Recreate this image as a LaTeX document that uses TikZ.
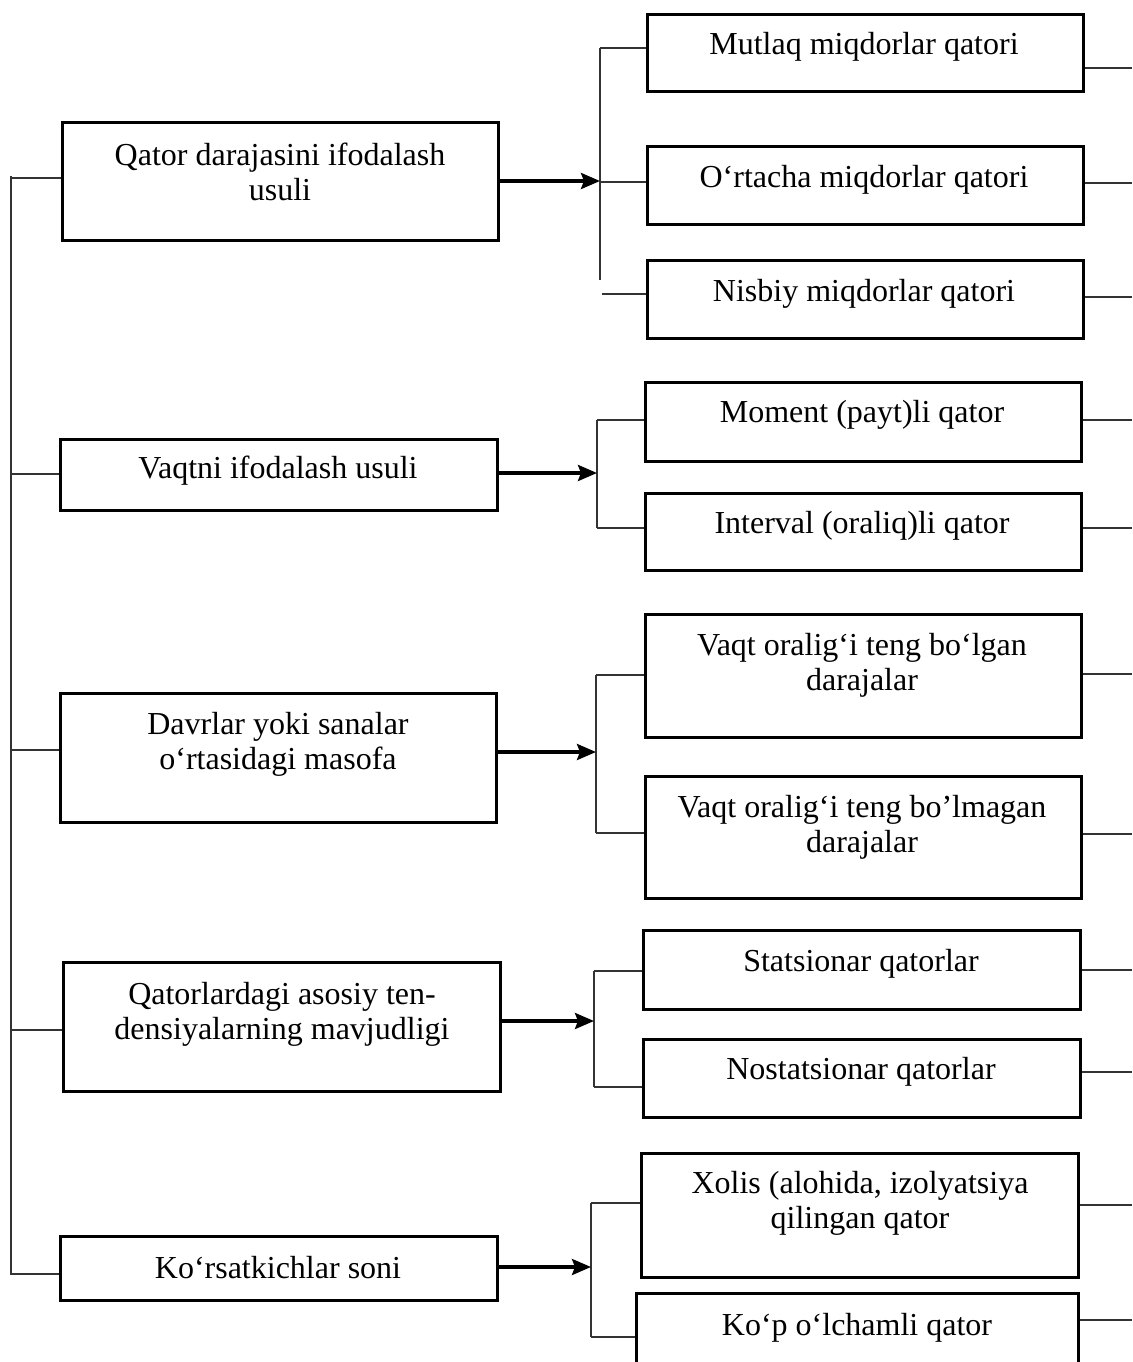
\documentclass[tikz,border=0pt]{standalone}
\usepackage{fontspec}
\setmainfont{Liberation Serif}
\usetikzlibrary{arrows.meta}

% rectangle node given by its corners: name, x1, y1, x2, y2
\newcommand\boxat[5]{%
  \node[box, minimum width={(#4)-(#2)}, minimum height={(#5)-(#3)}]
    (#1) at ({((#2)+(#4))/2},{((#3)+(#5))/2}) {};}

\begin{document}
\begin{tikzpicture}[x=1pt,y=-1pt,
  box/.style={draw, line width=3pt, inner sep=0pt},
  lbl/.style={font=\fontsize{32}{35}\selectfont, align=center, inner sep=0pt},
  link/.style={line width=1.4pt, draw=black!80},
  feed/.style={line width=3.4pt, -{Stealth[length=19pt,width=16pt,inset=3pt,fill=black]}}]
\useasboundingbox (0,0) rectangle (1132,1362);
\clip (0,0) rectangle (1132,1362);

% left column: classification criteria
\boxat{L1}{62}{123}{498}{240}
\boxat{L2}{60}{439}{497}{510}
\boxat{L3}{60}{693}{496}{822}
\boxat{L4}{63}{962}{500}{1091}
\boxat{L5}{60}{1236}{497}{1300}

\node[lbl] (tL1) at (280,172) {Qator darajasini ifodalash\\usuli};
\node[lbl] (tL2) at (278,471) {Vaqtni ifodalash usuli};
\node[lbl] (tL3) at (278,744) {Davrlar yoki sanalar\\o‘rtasidagi masofa};
\node[lbl] (tL4) at (282,1014) {Qatorlardagi asosiy ten-\\densiyalarning mavjudligi};
\node[lbl] (tL5) at (278,1268) {Ko‘rsatkichlar soni};

% right column: kinds of series
\boxat{R1}{647}{15}{1083}{92}
\boxat{R2}{647}{146}{1083}{224}
\boxat{R3}{647}{260}{1083}{338}
\boxat{R4}{645}{382}{1081}{461}
\boxat{R5}{645}{493}{1081}{570}
\boxat{R6}{645}{614}{1081}{737}
\boxat{R7}{645}{776}{1081}{898}
\boxat{R8}{643}{930}{1080}{1009}
\boxat{R9}{643}{1039}{1080}{1117}
\boxat{R10}{641}{1153}{1078}{1277}
\boxat{R11}{636}{1293}{1078}{1385}

\node[lbl] (tR1) at (864,47) {Mutlaq miqdorlar qatori};
\node[lbl] (tR2) at (864,180) {O‘rtacha miqdorlar qatori};
\node[lbl] (tR3) at (864,294) {Nisbiy miqdorlar qatori};
\node[lbl] (tR4) at (862,415) {Moment (payt)li qator};
\node[lbl] (tR5) at (862,526) {Interval (oraliq)li qator};
\node[lbl] (tR6) at (862,665) {Vaqt oralig‘i teng bo‘lgan\\darajalar};
\node[lbl] (tR7) at (862,827) {Vaqt oralig‘i teng bo’lmagan\\darajalar};
\node[lbl] (tR8) at (861,964) {Statsionar qatorlar};
\node[lbl] (tR9) at (861,1072) {Nostatsionar qatorlar};
\node[lbl] (tR10) at (860,1203) {Xolis (alohida, izolyatsiya\\qilingan qator};
\node[lbl] (tR11) at (857,1328) {Ko‘p o‘lchamli qator};

% spine on the left joining all criteria
\coordinate (sp0) at (11,176);
\coordinate (sp6) at (11,1275);
\draw[link] (sp0) -- (sp6);
\foreach \n/\y in {1/178, 2/474, 3/750, 4/1030, 5/1274}{
  \coordinate (sp\n) at (11,\y);
  \draw[link] (sp\n) -- (sp\n -| L\n.west);
}

% brackets: top, bottom, and the point the arrow reaches
\coordinate (g1t) at (600,48);   \coordinate (g1b) at (600,280);  \coordinate (g1a) at (600,181);
\coordinate (g2t) at (597,420);  \coordinate (g2b) at (597,528);  \coordinate (g2a) at (597,473);
\coordinate (g3t) at (596,675);  \coordinate (g3b) at (596,833);  \coordinate (g3a) at (596,752);
\coordinate (g4t) at (594,971);  \coordinate (g4b) at (594,1087); \coordinate (g4a) at (594,1021);
\coordinate (g5t) at (591,1203); \coordinate (g5b) at (591,1337); \coordinate (g5a) at (591,1267);
\coordinate (g1m) at (600,182);
\coordinate (g1n) at (602,294);

\foreach \g in {1,...,5}{ \draw[link] (g\g t) -- (g\g b); }

\draw[link] (g1t) -- (g1t -| R1.west);
\draw[link] (g1m) -- (g1m -| R2.west);
\draw[link] (g1n) -- (g1n -| R3.west);
\draw[link] (g2t) -- (g2t -| R4.west);
\draw[link] (g2b) -- (g2b -| R5.west);
\draw[link] (g3t) -- (g3t -| R6.west);
\draw[link] (g3b) -- (g3b -| R7.west);
\draw[link] (g4t) -- (g4t -| R8.west);
\draw[link] (g4b) -- (g4b -| R9.west);
\draw[link] (g5t) -- (g5t -| R10.west);
\draw[link] (g5b) -- (g5b -| R11.west);

% arrows from each criterion to its bracket
\foreach \n in {1,...,5}{ \draw[feed] (L\n.east |- g\n a) -- (g\n a); }

% short leads leaving the right edge
\foreach \n/\y in {1/68, 2/183, 3/297, 4/420, 5/528, 6/674, 7/834, 8/970, 9/1072, 10/1205, 11/1320}{
  \coordinate (out\n) at (1132,\y);
  \draw[link] (out\n -| R\n.east) -- (out\n);
}
\end{tikzpicture}
\end{document}
